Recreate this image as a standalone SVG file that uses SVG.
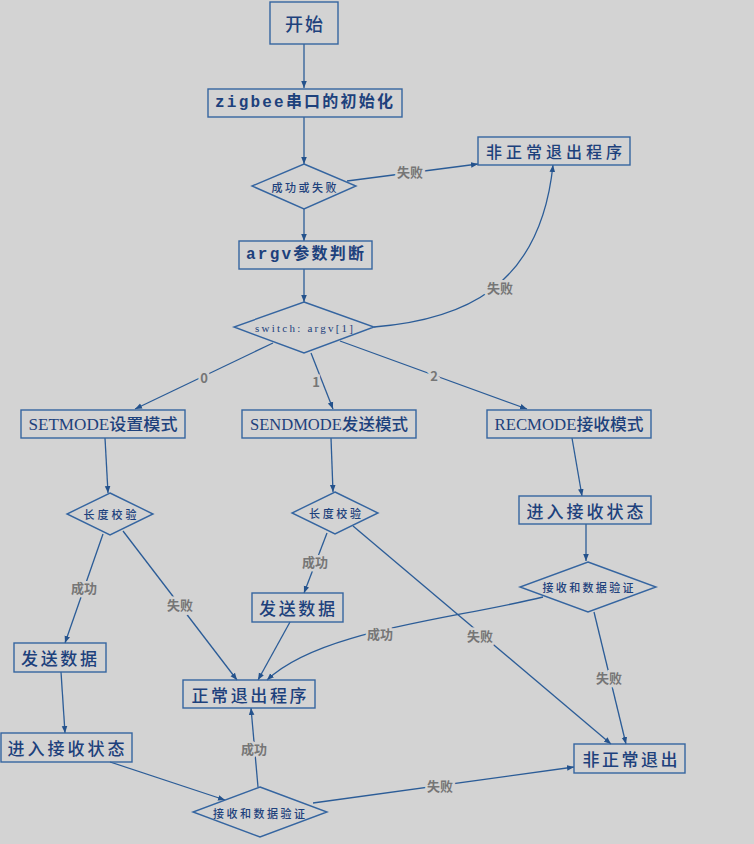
<svg xmlns="http://www.w3.org/2000/svg" width="754" height="844" viewBox="0 0 754 844">
<defs>
<marker id="ah" viewBox="0 0 10 10" refX="10" refY="5" markerWidth="7" markerHeight="7" markerUnits="userSpaceOnUse" orient="auto">
<path d="M0,1 L10,5 L0,9 Z" fill="#24528c"/>
</marker>
</defs>
<style>
.box{fill:none;stroke:#3565a0;stroke-width:1.4}
.dia{fill:none;stroke:#3565a0;stroke-width:1.4}
.t{fill:#1d417c;font-family:"Noto Sans CJK SC",sans-serif;text-anchor:middle;dominant-baseline:central;font-weight:500}
.ts{fill:#1d417c;font-family:"Liberation Serif","Noto Sans CJK SC",serif;text-anchor:middle;dominant-baseline:central;font-weight:500}
.tm{fill:#1d417c;font-family:"Liberation Mono","Noto Sans CJK SC",monospace;text-anchor:middle;dominant-baseline:central;font-weight:bold}
.c{fill:none;stroke:#2b5c97;stroke-width:1.3;marker-end:url(#ah)}
.lb{fill:#767676;font-family:"Noto Sans CJK SC",sans-serif;font-weight:bold;font-size:13px;text-anchor:middle;dominant-baseline:central;stroke:#d3d3d3;stroke-width:5;paint-order:stroke}
</style>
<rect x="0" y="0" width="754" height="844" fill="#d3d3d3"/>

<g id="connectors">
<path class="c" d="M304,44 L304,88"/>
<path class="c" d="M304,117 L304,164"/>
<path class="c" d="M304,209 L304,241"/>
<path class="c" d="M304,269 L304,302"/>
<path class="c" d="M347,181 L478,164"/>
<path class="c" d="M374,327 C460,320 540,290 553,165"/>
<path class="c" d="M273,343 L135,409"/>
<path class="c" d="M311,353 L333,409"/>
<path class="c" d="M340,341 L527,409"/>
<path class="c" d="M105,438 L108,493"/>
<path class="c" d="M331,438 L333,492"/>
<path class="c" d="M572,438 L582,496"/>
<path class="c" d="M103,534 L65,643"/>
<path class="c" d="M123,531 L237,680"/>
<path class="c" d="M327,533 L304,593"/>
<path class="c" d="M290,622 L258,680"/>
<path class="c" d="M353,526 L611,744"/>
<path class="c" d="M586,524 L586,561"/>
<path class="c" d="M543,597 C450,620 320,630 267,680"/>
<path class="c" d="M594,612 L626,744"/>
<path class="c" d="M61,672 L65,733"/>
<path class="c" d="M110,762 L225,800"/>
<path class="c" d="M258,787 L251,708"/>
<path class="c" d="M313,803 L574,767"/>
<text class="lb" x="410" y="171">失败</text>
<text class="lb" x="500" y="287">失败</text>
<text class="lb" x="204" y="377">0</text>
<text class="lb" x="316" y="381">1</text>
<text class="lb" x="434" y="375">2</text>
<text class="lb" x="84" y="587">成功</text>
<text class="lb" x="180" y="604">失败</text>
<text class="lb" x="315" y="561">成功</text>
<text class="lb" x="480" y="635">失败</text>
<text class="lb" x="380" y="633">成功</text>
<text class="lb" x="609" y="677">失败</text>
<text class="lb" x="254" y="748">成功</text>
<text class="lb" x="440" y="785">失败</text>
</g>

<g id="start"><rect class="box" x="270" y="2" width="68" height="42"/><text class="t" x="304" y="23" font-size="18" textLength="38" lengthAdjust="spacing">开始</text></g>
<g id="init"><rect class="box" x="208" y="89" width="194" height="28"/><text class="tm" x="304" y="103" font-size="16" textLength="178" lengthAdjust="spacing">zigbee串口的初始化</text></g>
<g id="check1"><polygon class="dia" points="304,164 356,186 304,209 252,186"/><text class="t" x="304" y="187" font-size="11" textLength="65" lengthAdjust="spacing">成功或失败</text></g>
<g id="abnormal1"><rect class="box" x="478" y="137" width="152" height="28"/><text class="t" x="554" y="151" font-size="16" textLength="136" lengthAdjust="spacing">非正常退出程序</text></g>
<g id="argv"><rect class="box" x="239" y="241" width="133" height="28"/><text class="tm" x="305" y="255" font-size="16" textLength="118" lengthAdjust="spacing">argv参数判断</text></g>
<g id="switch"><polygon class="dia" points="304,302 374,327 304,353 234,327"/><text class="ts" x="304" y="328" font-size="11" textLength="98" lengthAdjust="spacing" fill="#3a5a88">switch: argv[1]</text></g>
<g id="setmode"><rect class="box" x="21" y="410" width="164" height="28"/><text class="ts" x="103" y="424" font-size="16" textLength="149" lengthAdjust="spacingAndGlyphs">SETMODE设置模式</text></g>
<g id="sendmode"><rect class="box" x="242" y="410" width="174" height="28"/><text class="ts" x="329" y="424" font-size="16" textLength="158" lengthAdjust="spacingAndGlyphs">SENDMODE发送模式</text></g>
<g id="recmode"><rect class="box" x="487" y="410" width="164" height="28"/><text class="ts" x="569" y="424" font-size="16" textLength="149" lengthAdjust="spacingAndGlyphs">RECMODE接收模式</text></g>
<g id="len1"><polygon class="dia" points="110,493 153,514 110,535 67,514"/><text class="t" x="110" y="514" font-size="11" textLength="53" lengthAdjust="spacing">长度校验</text></g>
<g id="len2"><polygon class="dia" points="335,492 378,513 335,534 292,513"/><text class="t" x="335" y="513" font-size="11" textLength="52" lengthAdjust="spacing">长度校验</text></g>
<g id="recv_r"><rect class="box" x="519" y="496" width="132" height="28"/><text class="t" x="585" y="510" font-size="17" textLength="117" lengthAdjust="spacing">进入接收状态</text></g>
<g id="verify_r"><polygon class="dia" points="588,562 656,587 588,612 520,587"/><text class="t" x="588" y="587" font-size="11" textLength="91" lengthAdjust="spacing">接收和数据验证</text></g>
<g id="send_m"><rect class="box" x="252" y="593" width="91" height="29"/><text class="t" x="297" y="607" font-size="17" textLength="76" lengthAdjust="spacing">发送数据</text></g>
<g id="send_l"><rect class="box" x="14" y="643" width="92" height="29"/><text class="t" x="59" y="657" font-size="17" textLength="76" lengthAdjust="spacing">发送数据</text></g>
<g id="normal"><rect class="box" x="183" y="680" width="132" height="28"/><text class="t" x="249" y="694" font-size="17" textLength="115" lengthAdjust="spacing">正常退出程序</text></g>
<g id="recv_l"><rect class="box" x="1" y="733" width="131" height="29"/><text class="t" x="66" y="747" font-size="17" textLength="117" lengthAdjust="spacing">进入接收状态</text></g>
<g id="verify_l"><polygon class="dia" points="260,787 327,812 260,837 193,812"/><text class="t" x="259" y="813" font-size="11" textLength="92" lengthAdjust="spacing">接收和数据验证</text></g>
<g id="abnormal2"><rect class="box" x="574" y="744" width="111" height="29"/><text class="t" x="630" y="758" font-size="17" textLength="95" lengthAdjust="spacing">非正常退出</text></g>
</svg>
